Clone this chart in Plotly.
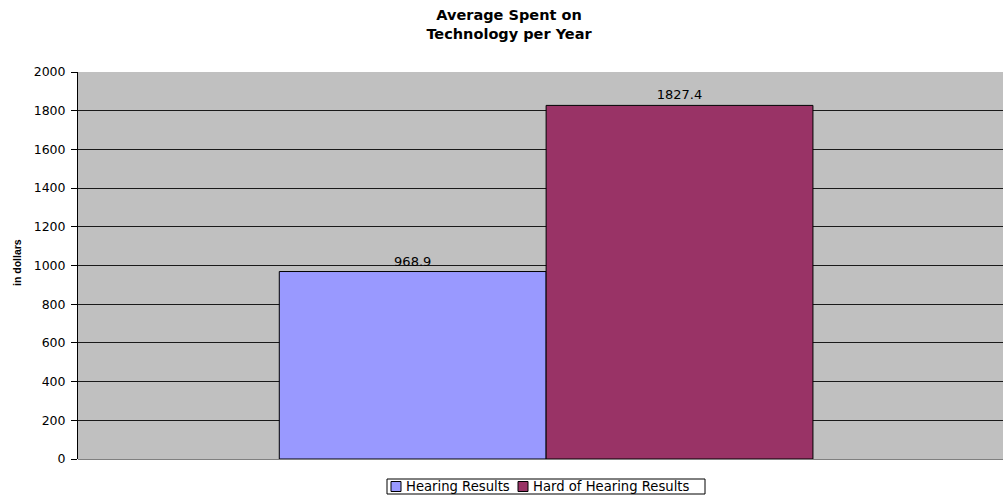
import plotly.graph_objects as go

series_names = ["Hearing Results", "Hard of Hearing Results"]
series_values = [968.9, 1827.4]
series_colors = ["#9999FF", "#993366"]
y_ticks = [0, 200, 400, 600, 800, 1000, 1200, 1400, 1600, 1800, 2000]

W, H = 1003, 496
L, R, T, B = 78, 0, 72, 37
PW, PH = W - L - R, H - T - B

FONT = "DejaVu Sans, Liberation Sans, Arial"


def px_x(px):
    # pixel x -> paper x (relative to plot domain)
    return (px - L) / PW


def px_y(py):
    # pixel y (from top) -> paper y (relative to plot domain)
    return (H - B - py) / PH


fig = go.Figure()
for name, val, col in zip(series_names, series_values, series_colors):
    fig.add_trace(go.Bar(
        x=[0], y=[val], name=name,
        marker=dict(color=col, line=dict(color="#000000", width=1)),
        text=[f"{val:.1f}"], textposition="outside",
        textfont=dict(family=FONT, size=13, color="#000000"),
        cliponaxis=False,
    ))

# Legend box with square swatches and labels
legend_left, legend_right = 387, 705
legend_top, legend_bottom = 479, 494
legend_mid = (legend_top + legend_bottom) / 2
swatch_x = [391, 518]
label_x = [404, 531]

shapes = [dict(
    type="rect", xref="paper", yref="paper",
    x0=px_x(legend_left), x1=px_x(legend_right),
    y0=px_y(legend_bottom), y1=px_y(legend_top),
    line=dict(color="#000000", width=1), fillcolor="#FFFFFF", layer="above",
)]
annotations = []
for name, col, sx, lx in zip(series_names, series_colors, swatch_x, label_x):
    shapes.append(dict(
        type="rect", xref="paper", yref="paper",
        x0=px_x(sx), x1=px_x(sx + 10),
        y0=px_y(legend_mid + 5), y1=px_y(legend_mid - 5),
        line=dict(color="#000000", width=1), fillcolor=col, layer="above",
    ))
    annotations.append(dict(
        text=name, xref="paper", yref="paper",
        x=px_x(lx), y=px_y(legend_mid), xanchor="left", yanchor="middle",
        showarrow=False, font=dict(family=FONT, size=13.2, color="#000000"),
    ))

annotations.append(dict(
    text="<b>in dollars</b>", xref="paper", yref="paper",
    x=px_x(17), y=px_y(262), xanchor="center", yanchor="middle",
    textangle=-90, showarrow=False,
    font=dict(family="Liberation Sans, Arial", size=10.5, color="#000000"),
))

fig.update_layout(
    width=W, height=H,
    margin=dict(l=L, r=R, t=T, b=B, autoexpand=False),
    paper_bgcolor="#FFFFFF",
    plot_bgcolor="#C0C0C0",
    barmode="group",
    bargap=0.43,
    bargroupgap=0,
    showlegend=False,
    title=dict(
        text="<b>Average Spent on<br>Technology per Year</b>",
        x=509 / W, xanchor="center", y=0.96, yanchor="top",
        font=dict(family="DejaVu Sans, Arial", size=14.5, color="#000000"),
    ),
    font=dict(family=FONT, size=12, color="#000000"),
    xaxis=dict(
        range=[-0.5, 0.488], showticklabels=False, showgrid=False,
        zeroline=False, showline=False, ticks="",
    ),
    yaxis=dict(
        range=[0, 2000], tickvals=y_ticks,
        showgrid=True, gridcolor="#1A1A1A", gridwidth=1,
        zeroline=True, zerolinecolor="#808080", zerolinewidth=1,
        showline=True, linecolor="#000000", linewidth=1,
        ticks="outside", ticklen=6, tickcolor="#000000",
        ticklabelstandoff=3,
        tickfont=dict(family=FONT, size=12.5, color="#000000"),
    ),
    shapes=shapes,
    annotations=annotations,
)

fig.write_html("out.html")
